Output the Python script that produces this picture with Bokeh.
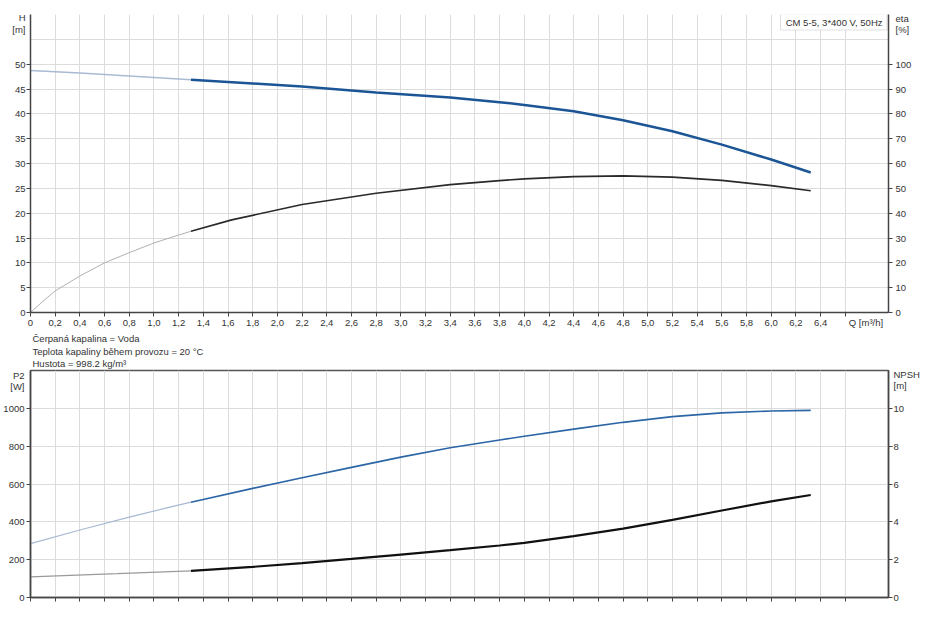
from bokeh.plotting import figure
from bokeh.models import Range1d, LinearAxis, FixedTicker, Label, BoxAnnotation, Title
from bokeh.layouts import column
from bokeh.embed import file_html
from bokeh.resources import INLINE

# ---------------- data ----------------
Q_TICKS = [0.0, 0.2, 0.4, 0.6, 0.8, 1.0, 1.2, 1.4, 1.6, 1.8, 2.0, 2.2, 2.4, 2.6, 2.8,
           3.0, 3.2, 3.4, 3.6, 3.8, 4.0, 4.2, 4.4, 4.6, 4.8, 5.0, 5.2, 5.4, 5.6, 5.8,
           6.0, 6.2, 6.4, 6.6]
Q_LABELS = ["0", "0,2", "0,4", "0,6", "0,8", "1,0", "1,2", "1,4", "1,6", "1,8", "2,0",
            "2,2", "2,4", "2,6", "2,8", "3,0", "3,2", "3,4", "3,6", "3,8", "4,0", "4,2",
            "4,4", "4,6", "4,8", "5,0", "5,2", "5,4", "5,6", "5,8", "6,0", "6,2", "6,4"]
H_TICKS = [0, 5, 10, 15, 20, 25, 30, 35, 40, 45, 50]
H_GRID = [0, 5, 10, 15, 20, 25, 30, 35, 40, 45, 50, 55]
ETA_TICKS = [0, 10, 20, 30, 40, 50, 60, 70, 80, 90, 100]
P2_TICKS = [0, 200, 400, 600, 800, 1000]
NPSH_TICKS = [0, 2, 4, 6, 8, 10]

# H curve [m]
Q_H_EXT = [0.0, 0.4, 0.8, 1.3]
H_EXT = [48.7, 48.2, 47.6, 46.85]
Q_H = [1.3, 1.8, 2.2, 2.8, 3.4, 3.8, 4.0, 4.4, 4.8, 5.2, 5.6, 6.0, 6.32]
H = [46.85, 46.1, 45.5, 44.3, 43.3, 42.35, 41.8, 40.5, 38.7, 36.5, 33.8, 30.8, 28.2]

# eta curve [%]
Q_ETA_EXT = [0.0, 0.1, 0.2, 0.4, 0.6, 0.8, 1.0, 1.2, 1.3]
ETA_EXT = [0.0, 4.5, 8.7, 14.7, 20.0, 24.1, 28.0, 31.2, 32.7]
Q_ETA = [1.3, 1.63, 2.2, 2.8, 3.4, 3.8, 4.0, 4.4, 4.8, 5.2, 5.6, 6.0, 6.32]
ETA = [32.7, 37.3, 43.5, 48.0, 51.5, 53.1, 53.8, 54.7, 55.0, 54.5, 53.2, 51.1, 49.0]

# P2 curve [W]
Q_P2_EXT = [0.0, 0.4, 0.8, 1.12, 1.3]
P2_EXT = [285, 357, 425, 476, 504]
Q_P2 = [1.3, 1.8, 2.2, 2.6, 3.0, 3.4, 3.8, 4.0, 4.4, 4.8, 5.2, 5.6, 6.0, 6.32]
P2 = [504, 577, 633, 688, 742, 792, 833, 852, 890, 926, 956, 976, 986, 989]

# NPSH curve [m]
Q_NPSH_EXT = [0.0, 0.7, 1.3]
NPSH_EXT = [1.09, 1.26, 1.41]
Q_NPSH = [1.3, 1.8, 2.2, 2.6, 3.0, 3.4, 3.8, 4.0, 4.4, 4.8, 5.2, 5.6, 6.0, 6.32]
NPSH = [1.41, 1.62, 1.82, 2.04, 2.27, 2.50, 2.75, 2.89, 3.24, 3.64, 4.10, 4.60, 5.08, 5.42]

INFO = ["Čerpaná kapalina = Voda",
        "Teplota kapaliny během provozu = 20 °C",
        "Hustota = 998.2 kg/m³"]
PUMP = "CM 5-5, 3*400 V, 50Hz"
Q_UNIT = "Q [m³/h]"
H_UNIT = ["H", "[m]"]
ETA_UNIT = ["eta", "[%]"]
P2_UNIT = ["P2", "[W]"]
NPSH_UNIT = ["NPSH", "[m]"]

# ---------------- geometry / style ----------------
XMAX = 6.95
H_MAX = 60
ETA_MAX = 120
P2_MAX = 1200
NPSH_MAX = 12
FW = 858
FH1 = 298
FH2 = 227
# page-pixel reference frame (used only to place unit labels)
FL, FT1, FT2 = 32, 14, 371
FONT = "Liberation Sans"
FS = "9.5px"
AX = "#444444"
GRID = "#dcdcdc"
TXT = "#333333"


def qx(px):
    return (px - FL) * XMAX / FW


def hy(py):
    return (FT1 + FH1 - py) * H_MAX / FH1


def py2(py):
    return (FT2 + FH2 - py) * P2_MAX / FH2


def style_axis(ax, standoff, size=FS):
    ax.axis_line_color = AX
    ax.axis_line_width = 1.5
    # visible tick marks are drawn as "minor" ticks, so that label-only ticks stay unmarked
    ax.major_tick_out = 0
    ax.major_tick_in = 0
    ax.minor_tick_line_color = AX
    ax.minor_tick_out = 4
    ax.minor_tick_in = 0
    ax.major_label_text_font = FONT
    ax.major_label_text_font_size = size
    ax.major_label_text_color = TXT
    ax.major_label_standoff = standoff


def make_fig(ymax, fh, mb_top, mb_bottom):
    p = figure(frame_width=FW, frame_height=fh, min_border_left=28, min_border_right=30,
               min_border_top=mb_top, min_border_bottom=mb_bottom,
               x_range=Range1d(0, XMAX), y_range=Range1d(0, ymax),
               output_backend="svg", toolbar_location=None, title=None)
    p.xgrid.ticker = FixedTicker(ticks=Q_TICKS)
    p.grid.grid_line_color = GRID
    p.grid.grid_line_width = 1
    p.background_fill_color = "white"
    p.border_fill_color = "white"
    return p


# ---------------- top chart ----------------
top = make_fig(H_MAX, FH1, 14, 0)
top.outline_line_color = None

style_axis(top.xaxis[0], 0)
q_lab_pos = qx(867.5)
top.xaxis.ticker = FixedTicker(ticks=Q_TICKS[:-1] + [q_lab_pos], minor_ticks=Q_TICKS)
over = {t: l for t, l in zip(Q_TICKS, Q_LABELS)}
over[q_lab_pos] = Q_UNIT
top.xaxis.major_label_overrides = over

style_axis(top.yaxis[0], 1)
h_lab = [hy(17), hy(29)]
top.yaxis.ticker = FixedTicker(ticks=H_TICKS + h_lab, minor_ticks=H_TICKS)
top.yaxis.major_label_overrides = {h_lab[0]: H_UNIT[0], h_lab[1]: H_UNIT[1]}
top.ygrid.ticker = FixedTicker(ticks=H_GRID)

top.extra_y_ranges = {"eta": Range1d(0, ETA_MAX)}
eta_lab = [2 * hy(18), 2 * hy(29)]
eta_ax = LinearAxis(y_range_name="eta",
                    ticker=FixedTicker(ticks=ETA_TICKS + eta_lab, minor_ticks=ETA_TICKS))
style_axis(eta_ax, 3)
eta_ax.major_label_overrides = {eta_lab[0]: ETA_UNIT[0], eta_lab[1]: ETA_UNIT[1]}
top.add_layout(eta_ax, "right")

top.line(Q_H_EXT, H_EXT, line_color="#a9bad3", line_width=1.5)
top.line(Q_H, H, line_color="#1c5596", line_width=2.5)
top.line(Q_ETA_EXT, ETA_EXT, y_range_name="eta", line_color="#b0b0b0", line_width=1)
top.line(Q_ETA, ETA, y_range_name="eta", line_color="#2a2a2a", line_width=1.6)

top.add_layout(Title(text="\n".join(INFO), align="left", offset=2, standoff=0,
                     text_font=FONT, text_font_size=FS, text_line_height=1.17,
                     text_font_style="normal", text_color=TXT), "below")

top.add_layout(BoxAnnotation(left=qx(782), right=qx(888.5), top=hy(13.5), bottom=hy(29.5),
                             fill_color="white", fill_alpha=1, line_color="#999999",
                             line_width=1))
top.add_layout(Label(x=qx(884), y=hy(21.5), text=PUMP, text_font=FONT, text_font_size=FS,
                     text_color=TXT, text_align="right", text_baseline="middle"))

# ---------------- bottom chart ----------------
bot = make_fig(P2_MAX, FH2, 1, 6)
bot.outline_line_color = "#555555"
bot.outline_line_width = 1.5

style_axis(bot.xaxis[0], 0)
bot.xaxis.ticker = FixedTicker(ticks=[], minor_ticks=Q_TICKS)

style_axis(bot.yaxis[0], 2)
p2_lab = [py2(376), py2(387)]
bot.yaxis.ticker = FixedTicker(ticks=P2_TICKS + p2_lab, minor_ticks=P2_TICKS)
bot.yaxis.major_label_overrides = {p2_lab[0]: P2_UNIT[0], p2_lab[1]: P2_UNIT[1]}
bot.ygrid.ticker = FixedTicker(ticks=P2_TICKS)

bot.extra_y_ranges = {"npsh": Range1d(0, NPSH_MAX)}
np_lab = [py2(375) / 100, py2(386) / 100]
np_ax = LinearAxis(y_range_name="npsh",
                   ticker=FixedTicker(ticks=NPSH_TICKS + np_lab, minor_ticks=NPSH_TICKS))
style_axis(np_ax, 1)
np_ax.major_label_overrides = {np_lab[0]: NPSH_UNIT[0], np_lab[1]: NPSH_UNIT[1]}
bot.add_layout(np_ax, "right")

bot.line(Q_P2_EXT, P2_EXT, line_color="#a8b9d2", line_width=1.2)
bot.line(Q_P2, P2, line_color="#2c66a6", line_width=1.6)
bot.line(Q_NPSH_EXT, NPSH_EXT, y_range_name="npsh", line_color="#9a9a9a", line_width=1.2)
bot.line(Q_NPSH, NPSH, y_range_name="npsh", line_color="#111111", line_width=2.2)

layout = column(top, bot)
open("out.html", "w").write(file_html(layout, INLINE))
